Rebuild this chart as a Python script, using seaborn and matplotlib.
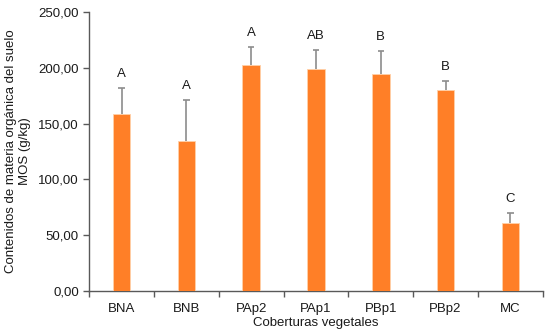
import pandas as pd
import seaborn as sns
import matplotlib.pyplot as plt
import numpy as np
from matplotlib.ticker import FuncFormatter, FixedLocator

categories = ['BNA', 'BNB', 'PAp2', 'PAp1', 'PBp1', 'PBp2', 'MC']
mos_values = [159.0, 134.5, 202.4, 198.5, 194.3, 179.7, 60.7]
error_upper = [23.0, 37.0, 16.0, 17.4, 21.0, 8.6, 9.3]
letters = ['A', 'A', 'A', 'AB', 'B', 'B', 'C']

plt.rcParams['font.family'] = ['Liberation Sans', 'DejaVu Sans']

df = pd.DataFrame({'cobertura': categories, 'mos': mos_values})

fig = plt.figure(figsize=(5.51, 3.35), dpi=100)
ax = fig.add_axes([0.162, 0.132, 0.823, 0.832])

sns.barplot(data=df, x='cobertura', y='mos', color='#FF7F27', saturation=1,
            width=0.27, edgecolor='#FFD0A8', linewidth=0.6, ax=ax, zorder=3)

# one-sided error bars (upward only) and letters above them
xs = np.arange(len(categories))
tops = np.array(mos_values) + np.array(error_upper)
ax.vlines(xs, mos_values, tops, color='#8C8C8C', linewidth=1.2, zorder=2)
ax.hlines(tops, xs - 0.05, xs + 0.05, color='#8C8C8C', linewidth=1.2, zorder=2)
for x, t, lab in zip(xs, tops, letters):
    ax.text(x, t + 7, lab, ha='center', va='bottom', fontsize=9.5, color='#1a1a1a')

ax.set_ylim(0, 250)
ax.set_xlim(-0.5, len(categories) - 0.5)
ax.set_yticks(np.arange(0, 251, 50))
ax.yaxis.set_major_formatter(FuncFormatter(lambda v, p: f'{v:.2f}'.replace('.', ',')))

ax.tick_params(axis='x', which='major', length=0, pad=9, labelsize=9.5, labelcolor='#1a1a1a')
ax.xaxis.set_minor_locator(FixedLocator(np.arange(-0.5, len(categories), 1)))
ax.tick_params(axis='x', which='minor', length=4, width=1, color='#595959', direction='out')
ax.tick_params(axis='y', length=4, width=1, color='#595959', labelsize=9.5,
               labelcolor='#1a1a1a', direction='out')

for s in ['top', 'right']:
    ax.spines[s].set_visible(False)
for s in ['left', 'bottom']:
    ax.spines[s].set_color('#595959')
    ax.spines[s].set_linewidth(1)

ax.set_xlabel('Coberturas vegetales', fontsize=9.5, labelpad=1, color='#1a1a1a')
ax.set_ylabel('Contenidos de materia orgánica del suelo\nMOS (g/kg)', fontsize=9.5,
              labelpad=5, color='#1a1a1a')

plt.savefig('out.png', dpi=100)
plt.close()
